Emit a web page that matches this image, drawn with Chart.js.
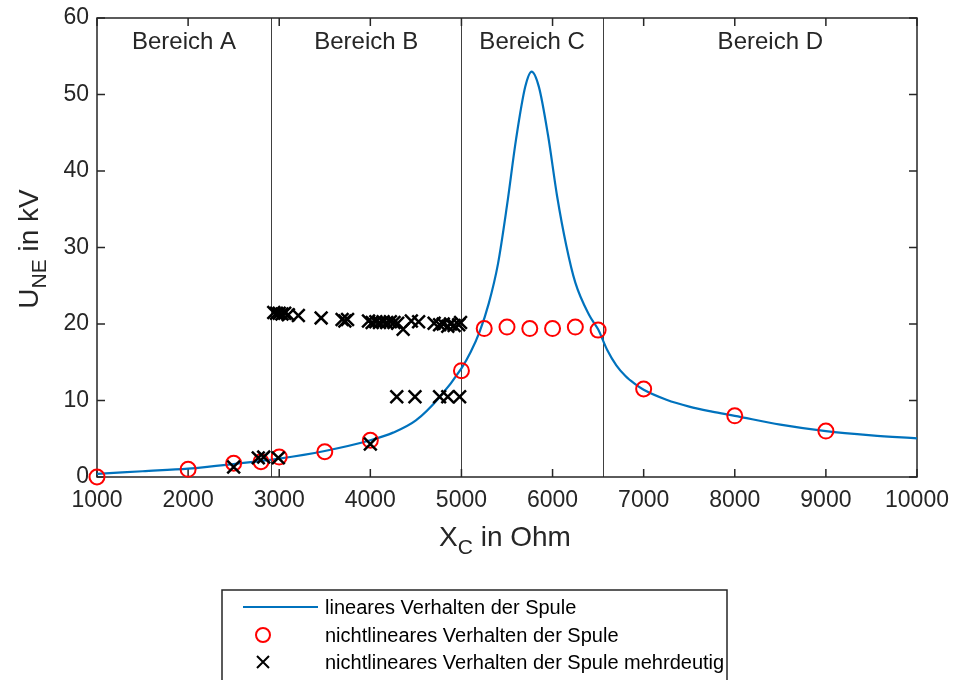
<!DOCTYPE html>
<html>
<head>
<meta charset="utf-8">
<script src="https://cdn.jsdelivr.net/npm/chart.js@4/dist/chart.umd.min.js"></script>
<style>
  html, body { margin: 0; padding: 0; background: #fff; }
</style>
</head>
<body>
<canvas id="chart" width="955" height="680"></canvas>
<script>
// lineares Verhalten (blue curve)
const xLinear = [1000, 1500, 2000, 2500, 3000, 3500, 4000, 4250, 4500, 4750, 5000, 5100, 5200, 5300, 5400, 5500, 5600, 5700, 5770, 5850, 5950, 6050, 6150, 6250, 6400, 6500, 6600, 6700, 6800, 6900, 7000, 7250, 7500, 7750, 8000, 8500, 9000, 9500, 10000];
const yLinear = [0.4, 0.75, 1.1, 1.7, 2.4, 3.4, 4.8, 5.8, 7.4, 10.3, 14.2, 16.3, 19.0, 22.7, 27.8, 35.5, 44.2, 51.0, 53.0, 51.0, 44.7, 36.7, 30.3, 25.4, 21.2, 19.3, 16.6, 14.6, 13.2, 12.2, 11.4, 10.1, 9.2, 8.55, 8.0, 6.85, 6.0, 5.45, 5.05];

// nichtlineares Verhalten (red circles)
const xKreis = [1000, 2000, 2500, 2800, 3000, 3500, 4000, 5000, 5250, 5500, 5750, 6000, 6250, 6500, 7000, 8000, 9000];
const yKreis = [0, 1.0, 1.8, 2.0, 2.6, 3.3, 4.8, 13.9, 19.4, 19.6, 19.4, 19.4, 19.6, 19.2, 11.5, 8.0, 6.0];

// nichtlineares Verhalten mehrdeutig (black crosses)
const xKreuz = [2500, 2770, 2830, 2990, 4000,
  4290, 4490, 4760, 4850, 4980,
  2940, 2970, 3000, 3030, 3060, 3100, 3210, 3460, 3690, 3720, 3750,
  3980, 4020, 4060, 4100, 4140, 4180, 4220, 4260, 4300, 4360, 4450, 4530,
  4700, 4760, 4800, 4850, 4880, 4920, 4970, 4990];
const yKreuz = [1.3, 2.5, 2.6, 2.5, 4.3,
  10.5, 10.5, 10.5, 10.5, 10.5,
  21.5, 21.4, 21.4, 21.3, 21.4, 21.2, 21.1, 20.8, 20.6, 20.4, 20.6,
  20.4, 20.2, 20.3, 20.2, 20.3, 20.2, 20.3, 20.2, 20.1, 19.3, 20.4, 20.3,
  20.1, 19.9, 20.0, 19.7, 20.0, 19.8, 19.9, 20.2];

const bereichGrenzen = [2910, 5000, 6550];
const bereichNamen = ["Bereich A", "Bereich B", "Bereich C", "Bereich D"];
const bereichMitte = [1955, 3955, 5775, 8390];

const xTicks = [1000, 2000, 3000, 4000, 5000, 6000, 7000, 8000, 9000, 10000];
const yTicks = [0, 10, 20, 30, 40, 50, 60];

const legendLabels = ["lineares Verhalten der Spule", "nichtlineares Verhalten der Spule", "nichtlineares Verhalten der Spule mehrdeutig"];

const FONT = "'Liberation Sans', Arial, sans-serif";
const DARK = "#262626";

function pts(xs, ys) {
  return xs.map((x, i) => ({ x: x, y: ys[i] }));
}

// text with a subscript part: [main, sub, rest]
function subText(ctx, parts, cx, cy, size) {
  ctx.font = size + "px " + FONT;
  const w0 = ctx.measureText(parts[0]).width;
  const w2 = ctx.measureText(parts[2]).width;
  ctx.font = Math.round(size * 0.75) + "px " + FONT;
  const w1 = ctx.measureText(parts[1]).width;
  let x = cx - (w0 + w1 + w2) / 2;
  ctx.textAlign = "left";
  ctx.textBaseline = "middle";
  ctx.font = size + "px " + FONT;
  ctx.fillText(parts[0], x, cy);
  x += w0;
  ctx.font = Math.round(size * 0.75) + "px " + FONT;
  ctx.fillText(parts[1], x, cy + size * 0.35);
  x += w1;
  ctx.font = size + "px " + FONT;
  ctx.fillText(parts[2], x, cy);
}

const figurePlugin = {
  id: "figure",
  beforeDatasetsDraw(chart) {
    const ctx = chart.ctx;
    const a = chart.chartArea;
    const xs = chart.scales.x, ys = chart.scales.y;
    ctx.save();
    // Bereich dividers
    ctx.strokeStyle = "#404040";
    ctx.lineWidth = 1;
    bereichGrenzen.forEach((g) => {
      const px = Math.round(xs.getPixelForValue(g)) + 0.5;
      ctx.beginPath();
      ctx.moveTo(px, a.top);
      ctx.lineTo(px, a.bottom);
      ctx.stroke();
    });
    // box
    ctx.strokeStyle = DARK;
    ctx.lineWidth = 1.5;
    ctx.strokeRect(a.left, a.top, a.right - a.left, a.bottom - a.top);
    // inward ticks on all sides
    const tl = 8;
    xTicks.forEach((t) => {
      const px = xs.getPixelForValue(t);
      ctx.beginPath();
      ctx.moveTo(px, a.bottom); ctx.lineTo(px, a.bottom - tl);
      ctx.moveTo(px, a.top); ctx.lineTo(px, a.top + tl);
      ctx.stroke();
    });
    yTicks.forEach((t) => {
      const py = ys.getPixelForValue(t);
      ctx.beginPath();
      ctx.moveTo(a.left, py); ctx.lineTo(a.left + tl, py);
      ctx.moveTo(a.right, py); ctx.lineTo(a.right - tl, py);
      ctx.stroke();
    });
    // Bereich labels
    ctx.fillStyle = DARK;
    ctx.font = "24px " + FONT;
    ctx.textAlign = "center";
    ctx.textBaseline = "middle";
    bereichNamen.forEach((n, i) => {
      ctx.fillText(n, xs.getPixelForValue(bereichMitte[i]), ys.getPixelForValue(56.8));
    });
    ctx.restore();
  },
  afterDraw(chart) {
    const ctx = chart.ctx;
    ctx.save();
    ctx.fillStyle = DARK;
    // axis titles
    subText(ctx, ["X", "C", " in Ohm"], 505, 538, 28);
    ctx.translate(30, 249);
    ctx.rotate(-Math.PI / 2);
    subText(ctx, ["U", "NE", " in kV"], 0, 0, 28);
    ctx.setTransform(1, 0, 0, 1, 0, 0);

    // legend box
    const bx = 222, by = 590, bw = 505, bh = 100;
    ctx.fillStyle = "#fff";
    ctx.fillRect(bx, by, bw, bh);
    ctx.strokeStyle = DARK;
    ctx.lineWidth = 1.5;
    ctx.strokeRect(bx, by, bw, bh);
    const rows = [607, 635, 662];
    ctx.strokeStyle = "#0072BD";
    ctx.lineWidth = 2;
    ctx.beginPath();
    ctx.moveTo(243, rows[0]); ctx.lineTo(318, rows[0]);
    ctx.stroke();
    ctx.strokeStyle = "#FF0000";
    ctx.beginPath();
    ctx.arc(263, rows[1], 7, 0, Math.PI * 2);
    ctx.stroke();
    ctx.strokeStyle = "#000";
    ctx.beginPath();
    ctx.moveTo(257, rows[2] - 6); ctx.lineTo(269, rows[2] + 6);
    ctx.moveTo(269, rows[2] - 6); ctx.lineTo(257, rows[2] + 6);
    ctx.stroke();
    ctx.fillStyle = "#000";
    ctx.font = "20px " + FONT;
    ctx.textAlign = "left";
    ctx.textBaseline = "middle";
    legendLabels.forEach((l, i) => ctx.fillText(l, 325, rows[i] + 1));
    ctx.restore();
  },
};

new Chart(document.getElementById("chart"), {
  type: "scatter",
  data: {
    datasets: [
      {
        label: legendLabels[0],
        type: "line",
        data: pts(xLinear, yLinear),
        borderColor: "#0072BD",
        borderWidth: 2.2,
        pointRadius: 0,
        cubicInterpolationMode: "monotone",
        fill: false,
        order: 3,
      },
      {
        label: legendLabels[1],
        data: pts(xKreis, yKreis),
        pointStyle: "circle",
        pointRadius: 7.5,
        borderColor: "#FF0000",
        backgroundColor: "rgba(0,0,0,0)",
        borderWidth: 2,
        clip: false,
        order: 2,
      },
      {
        label: legendLabels[2],
        data: pts(xKreuz, yKreuz),
        pointStyle: "crossRot",
        pointRadius: 9,
        borderColor: "#000000",
        backgroundColor: "#000000",
        borderWidth: 2.5,
        clip: false,
        order: 1,
      },
    ],
  },
  options: {
    responsive: false,
    animation: false,
    devicePixelRatio: 1,
    layout: { padding: { left: 0, right: 38, top: 18, bottom: 0 } },
    plugins: { legend: { display: false }, tooltip: { enabled: false } },
    scales: {
      x: {
        type: "linear",
        min: 1000,
        max: 10000,
        afterBuildTicks: (s) => { s.ticks = xTicks.map((v) => ({ value: v })); },
        afterFit: (s) => { s.height = 203; s.paddingLeft = 0; s.paddingRight = 0; },
        grid: { display: false, drawTicks: false },
        border: { display: false },
        ticks: { color: DARK, font: { family: FONT, size: 23 }, padding: 10, maxRotation: 0, autoSkip: false, callback: (v) => String(v) },
      },
      y: {
        type: "linear",
        min: 0,
        max: 60,
        afterBuildTicks: (s) => { s.ticks = yTicks.map((v) => ({ value: v })); },
        afterFit: (s) => { s.width = 97; s.paddingTop = 0; s.paddingBottom = 0; },
        grid: { display: false, drawTicks: false },
        border: { display: false },
        ticks: { color: DARK, font: { family: FONT, size: 23 }, padding: 8, autoSkip: false, callback: (v) => String(v) },
      },
    },
  },
  plugins: [figurePlugin],
});
</script>
</body>
</html>
